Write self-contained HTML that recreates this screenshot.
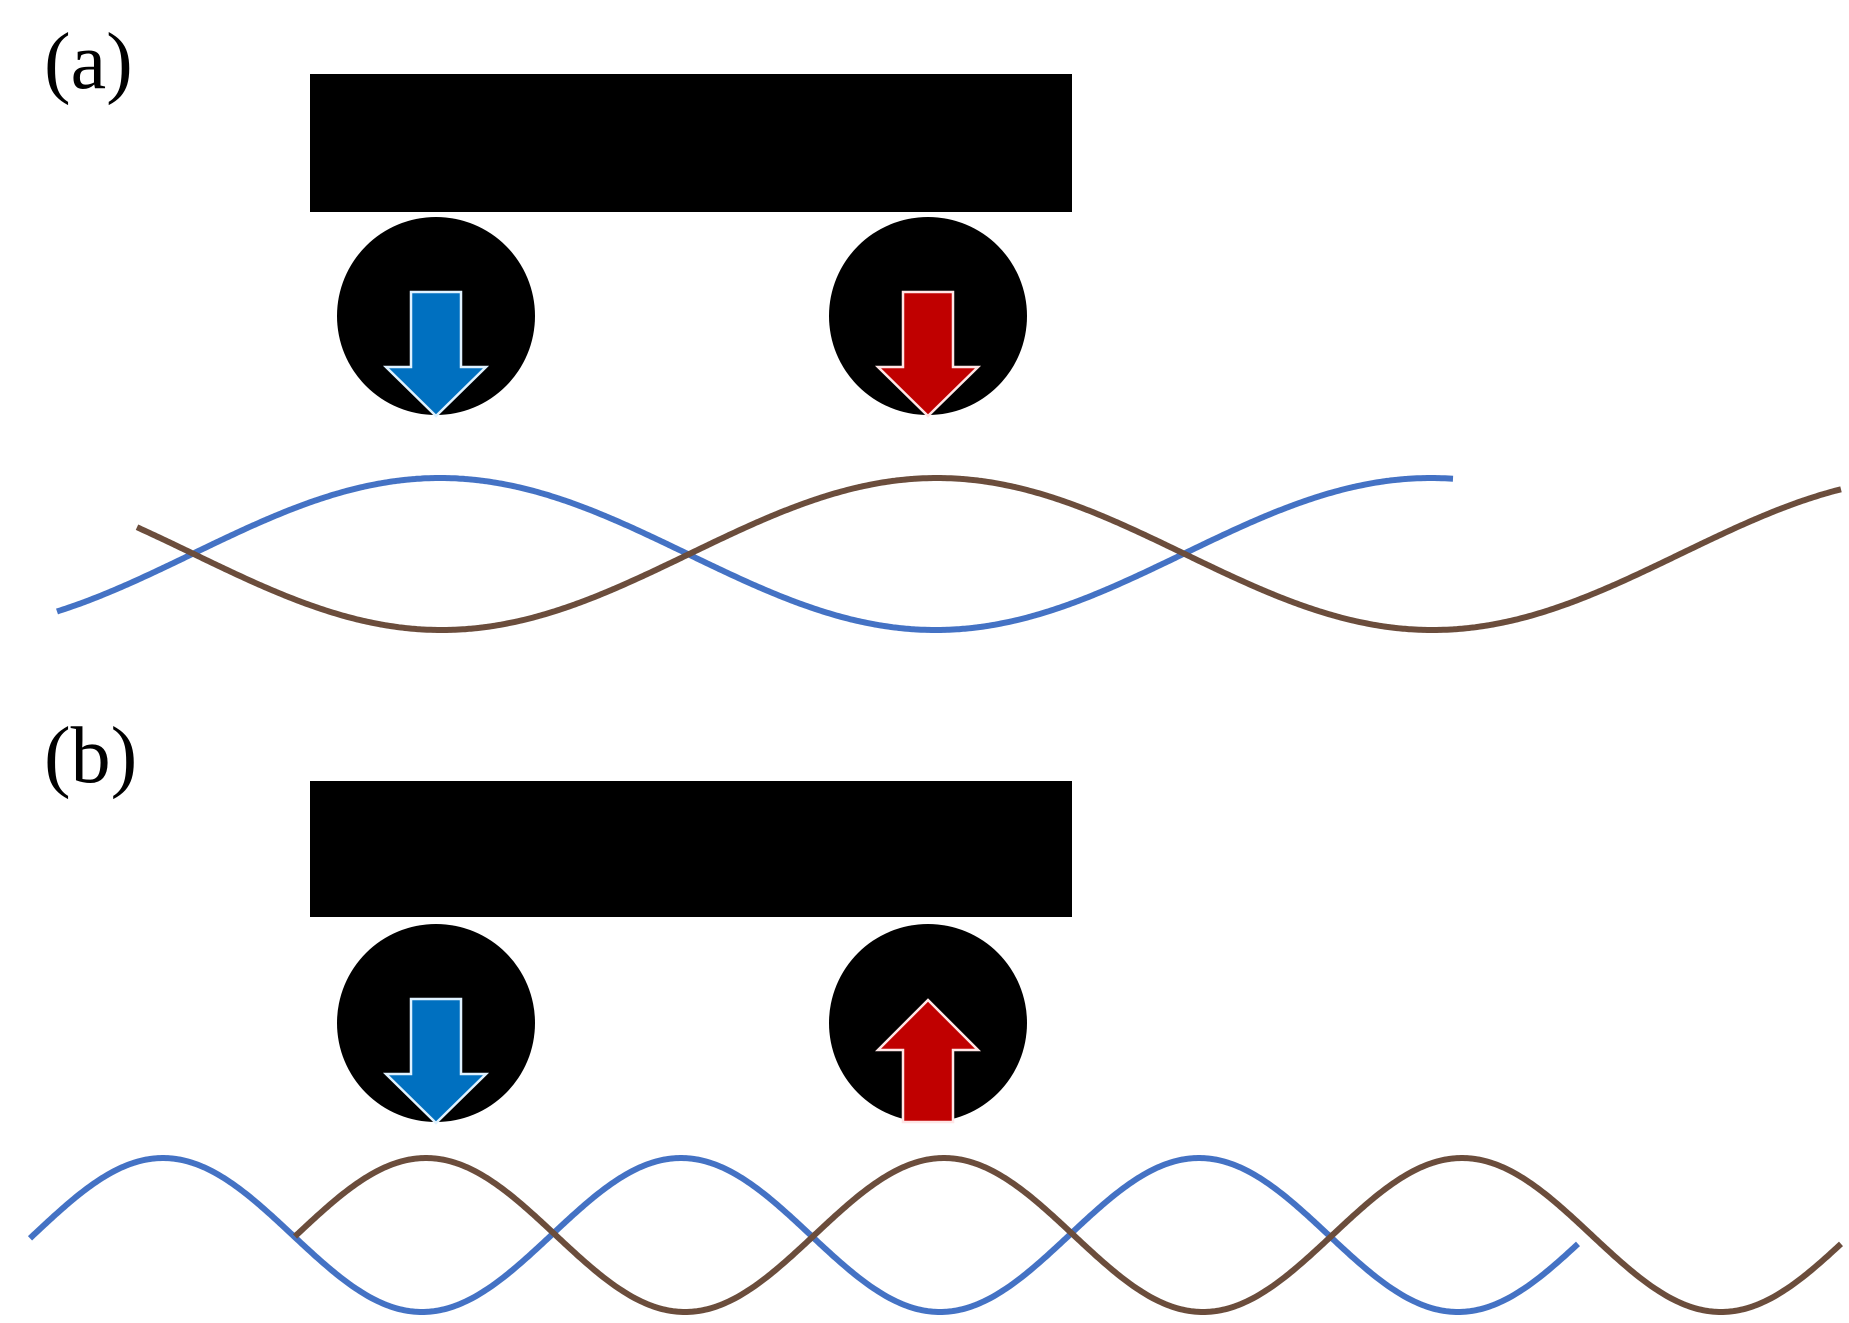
<!DOCTYPE html>
<html><head><meta charset="utf-8"><style>
html,body{margin:0;padding:0;background:#fff;}
svg{display:block}
text{font-family:"Liberation Serif",serif;}
</style></head><body>
<svg id="s" width="1849" height="1323" viewBox="0 0 1849 1323" xmlns="http://www.w3.org/2000/svg">
<rect width="1849" height="1323" fill="#fff"/>
<text x="44" y="88" font-size="80" fill="#000">(a)</text>
<text x="44" y="782" font-size="80" fill="#000">(b)</text>
<rect x="310" y="74" width="762" height="138" fill="#000"/>
<rect x="310" y="781" width="762" height="136" fill="#000"/>
<circle cx="436" cy="316" r="99" fill="#000"/>
<circle cx="928" cy="316" r="99" fill="#000"/>
<circle cx="436" cy="1023" r="99" fill="#000"/>
<circle cx="928" cy="1023" r="99" fill="#000"/>
<polygon points="411,292 461,292 461,367 486,367 436,416 386,367 411,367" fill="#0070c0" stroke="#dff2ff" stroke-width="2.5"/>
<polygon points="903,292 953,292 953,367 978,367 928,416 878,367 903,367" fill="#c00000" stroke="#ffe6e6" stroke-width="2.5"/>
<polygon points="411,999 461,999 461,1074 486,1074 436,1123 386,1074 411,1074" fill="#0070c0" stroke="#dff2ff" stroke-width="2.5"/>
<polygon points="903,1122 953,1122 953,1050 978,1050 928,1000 878,1050 903,1050" fill="#c00000" stroke="#ffe6e6" stroke-width="2.5"/>
<path id="wa1" fill="none" stroke="#4472c4" stroke-width="6"/>
<path id="wa2" fill="none" stroke="#6b4d3c" stroke-width="6"/>
<path id="wb1" fill="none" stroke="#4472c4" stroke-width="6"/>
<path id="wb2" fill="none" stroke="#6b4d3c" stroke-width="6"/>
</svg>
<script>
function wave(id,x0,x1,peak,period,cy,amp){
  var d="";
  for(var x=x0;x<=x1;x+=2){
    var y=cy-amp*Math.cos(2*Math.PI*(x-peak)/period);
    d+=(d?"L":"M")+x.toFixed(1)+","+y.toFixed(1);
  }
  document.getElementById(id).setAttribute("d",d);
}
wave("wa1",57,1454,440,991,554,76);
wave("wa2",137,1841,937,991,554,76);
wave("wb1",30,1578,163,518,1235,77);
wave("wb2",295,1841,426,518,1235,77);
</script>
</body></html>
